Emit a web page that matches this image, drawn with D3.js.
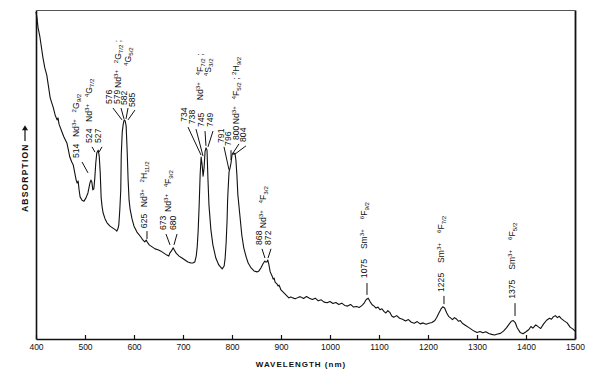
<!DOCTYPE html>
<html><head><meta charset="utf-8">
<script src="https://cdn.jsdelivr.net/npm/d3@7"></script>
<style>
html,body{margin:0;padding:0;background:#fff;}
svg{display:block;}
text{font-family:"Liberation Sans",Arial,sans-serif;fill:#111;}
</style></head>
<body><svg id="chart" width="600" height="371"></svg>
<script>
// ---- data (relative absorbance, arbitrary units) ----
const wavelength = [400,402,404,408,414,418,422,429,433,435,439,443,445,447,453,457,463,467,469,473,476,480,482,484,486,488,490,494,498,502,506,510,512,514,516,518,520,522,524,527,529,531,533,535,537,541,545,551,557,563,565,567,569,571,573,574,576,578,580,582,584,586,588,590,592,596,600,606,614,618,622,625,627,631,637,643,649,655,661,667,671,673,676,680,682,686,692,698,704,710,716,720,724,727,729,731,733,735,737,739,741,743,745,747,749,751,753,757,761,767,773,780,784,786,788,790,791,792,794,796,798,800,802,804,806,808,810,812,816,820,824,829,833,839,845,851,855,859,863,867,869,871,873,875,878,882,884,886,888,892,894,896,900,904,908,912,916,920,924,929,933,937,
940,946,952,958,964,970,976,982,988,994,1000,1006,1012,1018,1024,1030,1036,1042,1048,1054,1060,1066,1070,1074,1078,1082,1086,1090,1094,1098,1102,1106,1110,1114,1118,1122,1126,1130,1136,1142,1148,1154,1160,1166,1172,1178,1184,1190,1196,1202,1208,1214,1218,1222,1226,1230,1234,1238,1242,1246,1250,1254,1258,1262,1266,1270,1276,1282,1288,1294,1300,1306,1312,1318,1324,1330,1336,1342,1348,1354,1360,1366,1370,1374,1378,1382,1388,1394,1400,1406,1410,1414,1420,1426,1430,1436,1442,1448,1452,1456,1460,1464,1468,1472,1478,1484,1490,1496,1500];
const absorbance = [99.4,97.6,94.8,91.8,85.7,82.4,80.2,73.3,71.4,70.5,68.1,66.6,67.2,65.3,62.9,61.4,59.6,56.8,55.3,53.8,52.9,49.8,48.3,47.4,48.0,45.3,43.2,42.2,41.9,42.9,44.4,47.4,48.3,47.7,45.3,45.6,48.9,53.5,56.5,57.4,55.6,50.8,42.9,40.1,38.3,36.5,35.3,34.3,33.7,33.1,32.8,33.4,34.7,39.2,45.3,55.9,62.9,65.3,66.6,66.3,64.7,57.4,48.3,42.2,39.5,36.5,34.3,32.5,31.0,30.1,29.5,30.1,29.5,28.6,28.0,27.4,27.1,26.7,26.1,25.5,25.2,26.1,26.7,27.7,27.1,26.1,25.2,24.6,24.0,23.4,23.1,23.1,23.4,25.2,28.0,33.1,40.7,50.0,55.3,53.0,49.5,52.0,57.0,58.1,57.4,48.3,40.7,33.1,28.6,24.6,22.5,21.3,22.2,24.6,29.2,36.2,42.0,45.3,50.8,52.0,53.5,55.9,56.5,56.2,56.5,54.4,49.8,43.8,37.7,31.6,27.7,24.9,23.1,21.6,20.7,20.4,20.7,21.6,22.8,23.7,23.4,23.4,24.0,22.8,20.4,19.1,18.2,18.5,17.3,16.7,16.1,16.4,14.9,14.3,13.7,13.1,12.5,12.8,12.5,12.2,12.5,12.8,
12.8,12.3,12.9,12.4,12.0,12.4,11.6,11.9,11.2,11.0,11.4,10.8,11.1,10.5,10.9,10.2,10.0,10.5,9.7,9.9,9.6,10.3,11.0,12.0,12.4,11.3,10.4,10.0,9.4,9.7,8.9,9.2,8.4,7.9,8.6,8.1,7.0,6.6,7.1,6.3,6.0,5.5,5.9,5.1,4.8,5.3,4.6,4.9,4.5,4.8,5.0,5.6,6.6,7.8,9.0,9.8,9.4,8.0,6.9,6.4,5.9,6.5,6.1,5.4,5.6,4.8,4.2,3.6,3.0,2.4,2.0,2.3,1.9,2.2,1.7,1.4,1.2,1.5,1.7,2.4,3.4,4.6,5.4,5.6,5.0,3.4,2.0,1.6,2.2,2.9,3.8,3.3,4.3,3.6,3.2,4.6,5.7,6.3,6.0,6.8,7.1,6.5,6.9,6.2,5.5,4.9,3.6,3.0,2.4];
const tickLabels = [400,500,600,700,800,900,1000,1100,1200,1300,1400,1500];
const xTitle = "WAVELENGTH (nm)";
const yTitle = "ABSORPTION";
// annotation texts: '|' = gap, ^{..} superscript, _{..} subscript
const annoTexts = [
  "514||Nd^{3+}||^{2}G_{9/2}",
  "524||Nd^{3+}||^{4}G_{7/2}", "527",
  "576","579","582","585","Nd^{3+}||^{2}G_{7/2} ;","^{4}G_{5/2}",
  "625||Nd^{3+}||^{2}H_{11/2}",
  "673","680","Nd^{3+}||^{4}F_{9/2}",
  "734","738","745","749","Nd^{3+}||^{4}F_{7/2} ;","^{4}S_{3/2}",
  "791","796","800","804","Nd^{3+}||^{4}F_{5/2} ; ^{2}H_{9/2}",
  "868","872","Nd^{3+}||^{4}F_{3/2}",
  "1075|||Sm^{3+}|||^{6}F_{9/2}",
  "1225|||Sm^{3+}|||^{6}F_{7/2}",
  "1375|||Sm^{3+}|||^{6}F_{5/2}"
];

// ---- layout ----
const svg = d3.select("#chart");
const x = d3.scaleLinear().domain([400,1500]).range([36,575]);
const y = d3.scaleLinear().domain([0,100]).range([339,10]);

// annotation anchors in data units: [nm, value] of column centre/bottom
const annoPos = [
  [487.8,55.0],
  [514.3,59.6],[532.7,59.6],
  [555.1,71.4],[571.4,71.4],[585.7,71.1],[602.0,70.5],[573.5,76.3],[593.9,83.0],
  [626.5,33.7],
  [665.3,33.1],[685.7,33.1],[675.5,38.6],
  [708.2,66.0],[724.5,65.3],[742.9,64.4],[761.2,64.4],[740.8,72.6],[757.1,79.9],
  [783.7,59.6],[798.0,58.7],[814.2,60.5],[828.5,59.9],[814.2,65.3],
  [861.2,28.6],[879.6,28.6],[869.4,33.7],
  [1075.5,18.5],
  [1232.6,14.3],
  [1377.6,12.2]
];
// leader lines in data units [nm1,v1,nm2,v2]
const leaders = [
  [493.9,53.8,506.1,50.5],
  [514.3,58.4,520.4,56.8],[534.7,58.4,528.6,56.8],
  [557.1,70.2,575.5,66.6],[573.5,70.2,579.6,66.9],[587.8,70.2,583.7,66.9],[602.0,69.6,587.8,66.6],
  [626.5,32.8,626.5,30.4],
  [665.3,31.9,673.5,28.6],[687.8,31.9,681.6,28.6],
  [710.2,64.4,736.8,55.9],[726.5,63.8,740.9,55.6],[744.9,63.2,746.9,58.7],[761.2,63.2,751.0,58.4],
  [783.7,58.4,793.9,51.4],[798.0,57.4,798.0,54.4],[814.2,59.3,802.0,56.5],[828.5,58.7,806.1,56.2],
  [861.2,27.4,867.3,24.6],[879.6,27.4,873.5,24.6],
  [1075.5,17.0,1075.5,13.4],
  [1232.6,13.1,1232.6,10.6],
  [1377.6,10.9,1377.6,7.0]
];

// axes
const gx = svg.append("g").attr("transform",`translate(0,${y(0)})`)
  .call(d3.axisBottom(x).tickValues(tickLabels).tickFormat(d3.format("d"))
        .tickSizeInner(-4).tickSizeOuter(0).tickPadding(5));
gx.select(".domain").attr("stroke","#111").attr("stroke-width",1.6);
gx.selectAll(".tick line").attr("stroke","#111").attr("stroke-width",1.2);
gx.selectAll(".tick text").attr("font-size",8.5).attr("font-family","Liberation Sans, Arial, sans-serif").attr("fill","#111");

const gl = svg.append("g").attr("transform",`translate(${x(400)},0)`)
  .call(d3.axisLeft(y).tickValues([]).tickSizeOuter(0));
gl.select(".domain").attr("stroke","#111").attr("stroke-width",1.6);
const gr = svg.append("g").attr("transform",`translate(${x(1500)},0)`)
  .call(d3.axisRight(y).tickValues([]).tickSizeOuter(0));
gr.select(".domain").attr("stroke","#111").attr("stroke-width",1.8);
const gt = svg.append("g").attr("transform",`translate(0,${y(100)})`)
  .call(d3.axisTop(x).tickValues([]).tickSizeOuter(0));
gt.select(".domain").attr("stroke","#555").attr("stroke-width",1.2);

// spectrum
const pts = wavelength.map((w,i)=>[w,absorbance[i]]);
svg.append("path").datum(pts)
  .attr("fill","none").attr("stroke","#111").attr("stroke-width",1.1)
  .attr("stroke-linejoin","round")
  .attr("d", d3.line().x(d=>x(d[0])).y(d=>y(d[1])));

// leaders
svg.append("g").selectAll("line").data(leaders).join("line")
  .attr("x1",d=>x(d[0])).attr("y1",d=>y(d[1]))
  .attr("x2",d=>x(d[2])).attr("y2",d=>y(d[3]))
  .attr("stroke","#111").attr("stroke-width",1);

// rotated annotation text
function parse(s){
  const segs=[]; let i=0, buf="";
  const flush=()=>{ if(buf){segs.push({t:buf,k:"n"}); buf="";} };
  while(i<s.length){
    const c=s[i];
    if(c==="|"){ flush(); segs.push({k:"gap"}); i++; }
    else if((c==="^"||c==="_") && s[i+1]==="{"){
      flush(); const j=s.indexOf("}",i);
      segs.push({t:s.slice(i+2,j),k:c==="^"?"sup":"sub"}); i=j+1;
    } else { buf+=c; i++; }
  }
  flush(); return segs;
}
const FS = 8.6;
annoTexts.forEach((s,idx)=>{
  const p = annoPos[idx];
  const g = svg.append("g").attr("transform",`translate(${x(p[0])},${y(p[1])}) rotate(-90)`);
  const t = g.append("text").attr("x",0).attr("y",0).attr("dy","0.35em").attr("font-size",FS);
  let shift=0, pendingGap=0;
  parse(s).forEach(seg=>{
    if(seg.k==="gap"){ pendingGap+=3.3; return; }
    const target = seg.k==="sup"? -3.2 : seg.k==="sub"? 2 : 0;
    const ts = t.append("tspan").text(seg.t)
      .attr("font-size", seg.k==="n"?FS:6.2)
      .attr("dy", target-shift);
    if(pendingGap) ts.attr("dx",pendingGap);
    pendingGap=0; shift=target;
  });
});

// axis titles
svg.append("text").attr("x",301).attr("y",367).attr("text-anchor","middle")
  .attr("font-size",8).attr("font-weight","bold").attr("letter-spacing",1.0)
  .text(xTitle);
const yt = svg.append("g").attr("transform",`translate(25,${y(38.6)}) rotate(-90)`);
yt.append("text").attr("x",0).attr("y",0).attr("dy","0.35em")
  .attr("font-size",8.5).attr("font-weight","bold").attr("letter-spacing",1.2)
  .text(yTitle);
// arrow
const ay0 = y(60.2), ay1 = y(65.0);
svg.append("line").attr("x1",25).attr("x2",25).attr("y1",ay0).attr("y2",ay1+4)
  .attr("stroke","#111").attr("stroke-width",1.2);
svg.append("path").attr("d",`M22,${ay1+5}L25,${ay1}L28,${ay1+5}Z`).attr("fill","#111");
</script></body></html>
